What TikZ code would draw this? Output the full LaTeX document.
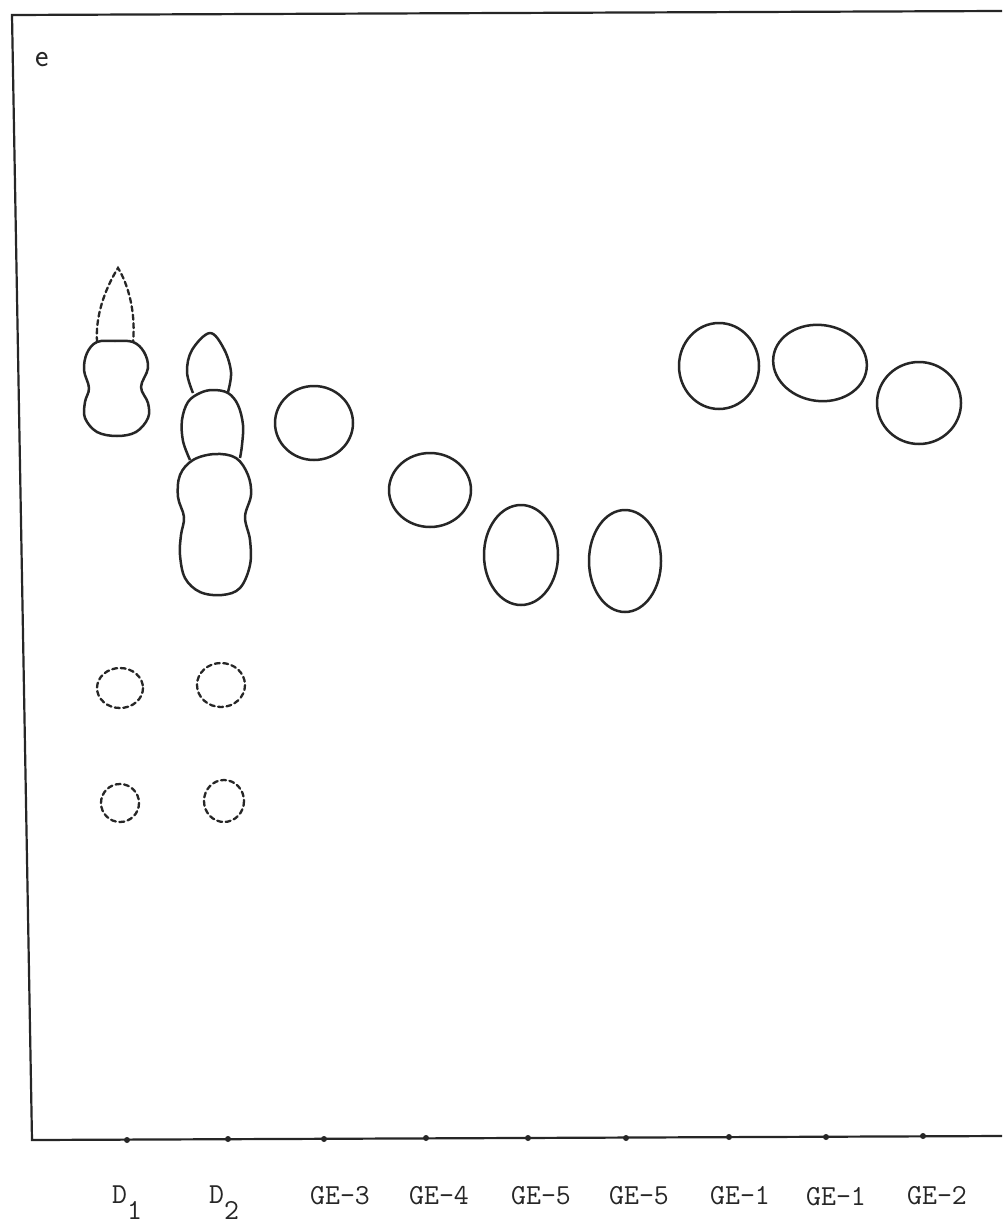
\documentclass[tikz,border=0pt]{standalone}
\usepackage{xcolor}
\usepackage{tikz}

\definecolor{ink}{RGB}{38,38,38}

\begin{document}
\begin{tikzpicture}[x=1pt,y=-1pt,
  spot/.style={draw=ink,line width=2.5pt,line join=round},
  faint/.style={draw=ink,line width=2.3pt,dash pattern=on 5pt off 3.5pt,line cap=round},
  lane/.style={inner sep=0pt,outer sep=0pt,anchor=base,text=ink,font=\ttfamily\fontsize{29}{32}\selectfont}]
\path[use as bounding box] (0,0) rectangle (1002,1225);
\path[fill=white,draw=none] (0,0) rectangle (1002,1225);
\node[inner sep=0pt,outer sep=0pt,anchor=base west,text=ink,font=\sffamily\fontsize{32}{36}\selectfont] (panel) at (35,67) {e};
\coordinate (cTL) at (12,15);
\coordinate (cTR) at (1002,11);
\coordinate (cBL) at (32,1140);
\coordinate (cBR) at (1002,1136);
\draw[ink,line width=2.2pt] (cTR) -- (cTL) -- (cBL) -- (cBR);
\coordinate (t1) at (127,1140);
\coordinate (t2) at (228,1139);
\coordinate (t3) at (324,1139);
\coordinate (t4) at (426,1138);
\coordinate (t5) at (528,1138);
\coordinate (t6) at (626,1138);
\coordinate (t7) at (729,1137);
\coordinate (t8) at (826,1137);
\coordinate (t9) at (923,1136);
\fill[ink] (t1) circle (3) (t2) circle (3) (t3) circle (3) (t4) circle (3) (t5) circle (3) (t6) circle (3) (t7) circle (3) (t8) circle (3) (t9) circle (3);
\node[lane] (lD1) at (127,1203) {D\raisebox{-16pt}{1}};
\node[lane] (lD2) at (224,1203) {D\raisebox{-16pt}{2}};
\node[lane] (lGE3) at (340,1204) {GE-3};
\node[lane] (lGE4) at (439,1204) {GE-4};
\node[lane] (lGE5a) at (541,1204) {GE-5};
\node[lane] (lGE5b) at (639,1204) {GE-5};
\node[lane] (lGE1a) at (740,1204) {GE-1};
\node[lane] (lGE1b) at (836,1205) {GE-1};
\node[lane] (lGE2) at (937,1204) {GE-2};
\draw[faint] (97,342) .. controls (95,312) and (108,284) .. (118,268) .. controls (128,284) and (136,312) .. (133,342);
\draw[spot] plot[smooth cycle,tension=.6] coordinates {(97,342) (115,341) (133,342) (144,352) (148,368) (141,387) (148,403) (148,418) (136,432) (117,436) (97,432) (85,418) (85,402) (89,388) (84,370) (87,353)};
\draw[spot] plot[smooth,tension=.6] coordinates {(193,393) (187,372) (192,350) (210,333) (224,349) (231,372) (228,392)};
\draw[spot] plot[smooth,tension=.6] coordinates {(190,460) (183,441) (182,420) (188,402) (200,393) (213,390) (228,393) (238,405) (243,425) (242,445) (240,458)};
\draw[spot] plot[smooth cycle,tension=.6] coordinates {(215,454) (236,458) (248,475) (251,495) (245,517) (250,540) (250,565) (240,588) (222,595) (200,592) (185,578) (180,555) (181,535) (184,517) (178,497) (180,475) (193,460)};
\draw[faint] (120,688) ellipse (23 and 20);
\draw[faint] (221,685) ellipse (24 and 22);
\draw[faint] (120,803) ellipse (19 and 19);
\draw[faint] (224,801) ellipse (20 and 21);
\draw[spot] (314,423) ellipse (39 and 37);
\draw[spot] (430,490) ellipse (41 and 37);
\draw[spot] (521,555) ellipse (37 and 50);
\draw[spot] (625,561) ellipse (36 and 51);
\draw[spot] (719,366) ellipse (40 and 43);
\draw[spot,rotate around={-8:(820,363)}] (820,363) ellipse (47 and 38);
\draw[spot] (919,403) ellipse (42 and 41);
\end{tikzpicture}
\end{document}
